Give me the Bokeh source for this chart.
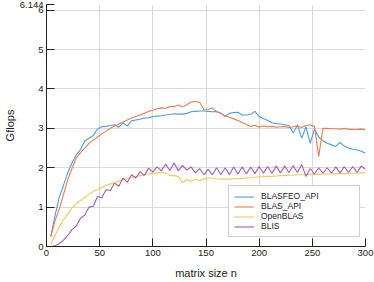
from bokeh.plotting import figure
from bokeh.models import Range1d, FixedTicker, CustomJSTickFormatter, Legend, LegendItem
from bokeh.embed import file_html
from bokeh.resources import INLINE

n = list(range(4, 301, 4))

blasfeo_api = [0.26, 0.78, 1.25, 1.55, 1.88, 2.12, 2.33, 2.46, 2.68, 2.75,
               2.82, 2.98, 3.04, 3.05, 3.07, 3.09, 3.03, 3.14, 3.06, 3.19,
               3.21, 3.23, 3.26, 3.27, 3.30, 3.31, 3.32, 3.34, 3.35, 3.37,
               3.36, 3.36, 3.38, 3.42, 3.43, 3.44, 3.44, 3.43, 3.42, 3.43,
               3.38, 3.30, 3.38, 3.40, 3.41, 3.34, 3.34, 3.35, 3.43, 3.30,
               3.25, 3.20, 3.14, 3.12, 3.11, 3.09, 3.07, 2.88, 3.08, 2.75,
               3.04, 2.62, 2.98, 2.78, 2.68, 2.62, 2.58, 2.54, 2.64, 2.55,
               2.50, 2.47, 2.45, 2.42, 2.37]

blas_api = [0.25, 0.65, 0.95, 1.32, 1.70, 1.98, 2.25, 2.38, 2.50, 2.62,
            2.70, 2.78, 2.86, 2.93, 3.00, 3.06, 3.11, 3.16, 3.21, 3.26,
            3.30, 3.34, 3.38, 3.43, 3.46, 3.50, 3.52, 3.51, 3.55, 3.55,
            3.59, 3.55, 3.60, 3.67, 3.68, 3.66, 3.47, 3.48, 3.52, 3.42,
            3.38, 3.32, 3.28, 3.24, 3.20, 3.15, 3.10, 3.05, 3.08, 3.03,
            3.06, 3.04, 3.05, 3.03, 3.04, 3.05, 3.02, 3.04, 3.06, 3.02,
            3.07, 3.09, 3.05, 2.29, 3.00, 3.00, 2.99, 2.99, 2.98, 3.00,
            2.98, 2.97, 2.97, 2.98, 2.96]

openblas = [0.05, 0.28, 0.50, 0.68, 0.82, 0.98, 1.10, 1.17, 1.25, 1.33,
            1.40, 1.45, 1.50, 1.55, 1.59, 1.62, 1.66, 1.69, 1.72, 1.75,
            1.77, 1.80, 1.82, 1.84, 1.86, 1.87, 1.88, 1.87, 1.80, 1.80,
            1.78, 1.62, 1.70, 1.66, 1.71, 1.67, 1.72, 1.74, 1.74, 1.72,
            1.71, 1.71, 1.71, 1.72, 1.72, 1.73, 1.74, 1.75, 1.76, 1.77,
            1.77, 1.78, 1.78, 1.79, 1.80, 1.80, 1.81, 1.81, 1.82, 1.82,
            1.82, 1.83, 1.83, 1.83, 1.84, 1.84, 1.84, 1.85, 1.85, 1.85,
            1.86, 1.86, 1.86, 1.87, 1.87]

blis = [0.00, 0.02, 0.07, 0.16, 0.28, 0.43, 0.52, 0.72, 0.80, 1.00,
        1.02, 1.27, 1.24, 1.44, 1.42, 1.61, 1.53, 1.74, 1.63, 1.82,
        1.74, 1.90, 1.80, 1.99, 1.89, 2.02, 1.92, 2.09, 1.93, 2.12,
        1.92, 2.06, 1.94, 2.02, 1.87, 1.98, 1.82, 1.96, 1.82, 2.00,
        1.82, 2.00, 1.82, 2.02, 1.84, 2.02, 1.84, 2.02, 1.85, 2.03,
        1.86, 2.03, 1.86, 2.04, 1.87, 2.04, 1.88, 2.05, 1.88, 2.08,
        1.78, 1.98, 1.84, 2.00, 1.86, 2.00, 1.86, 2.02, 1.87, 2.03,
        1.88, 2.03, 1.88, 2.04, 1.96]

series_names = ["BLASFEO_API", "BLAS_API", "OpenBLAS", "BLIS"]
series_values = [blasfeo_api, blas_api, openblas, blis]
series_colors = ["#4a9ee0", "#ee7c4e", "#f7c654", "#a05cba"]

xticks = [0, 50, 100, 150, 200, 250, 300]
yticks = [0, 1, 2, 3, 4, 5, 6, 6.144]
x_label = "matrix size n"
y_label = "Gflops"

FONT = "Liberation Sans"

p = figure(width=374, height=282, output_backend="svg", toolbar_location=None,
           x_range=Range1d(0, 300), y_range=Range1d(0, 6.144),
           min_border_left=46, min_border_right=9, min_border_top=4, min_border_bottom=36)
p.outline_line_color = None
p.background_fill_color = "white"

renderers = []
for name, vals, col in zip(series_names, series_values, series_colors):
    r = p.line(n, vals, line_color=col, line_width=1.1)
    renderers.append((name, r))

for ax in (p.xaxis[0], p.yaxis[0]):
    ax.axis_line_color = "#222222"
    ax.major_tick_line_color = "#222222"
    ax.major_tick_in = 8
    ax.major_tick_out = 0
    ax.minor_tick_line_color = None
    ax.major_label_text_font = FONT
    ax.major_label_text_font_size = "9.5px"
    ax.major_label_text_color = "#222222"
    ax.axis_label_text_font = FONT
    ax.axis_label_text_font_size = "11px"
    ax.axis_label_text_font_style = "normal"
    ax.axis_label_text_color = "#222222"

p.xaxis.ticker = FixedTicker(ticks=xticks)
p.yaxis.ticker = FixedTicker(ticks=yticks)
p.yaxis.formatter = CustomJSTickFormatter(code="return String(tick)")
p.xaxis.axis_label = x_label
p.yaxis.axis_label = y_label
p.xaxis.major_label_standoff = 3
p.xaxis.axis_label_standoff = 8
p.yaxis.major_label_standoff = 3
p.yaxis.axis_label_standoff = 1

p.xgrid.grid_line_color = "#d9d9d9"
p.ygrid.grid_line_color = "#d9d9d9"
p.xgrid.grid_line_width = 1
p.ygrid.grid_line_width = 1

legend = Legend(items=[LegendItem(label=nm, renderers=[r]) for nm, r in renderers],
                location=(182, 9), margin=0, padding=5, spacing=0,
                label_height=9, glyph_height=9, glyph_width=20, label_standoff=7,
                label_width=93,
                label_text_font=FONT, label_text_font_size="8.5px",
                label_text_color="#222222",
                border_line_color="#a0a0a0", border_line_width=1,
                background_fill_color="white", background_fill_alpha=1)
p.add_layout(legend, "center")

open("out.html", "w").write(file_html(p, INLINE))
